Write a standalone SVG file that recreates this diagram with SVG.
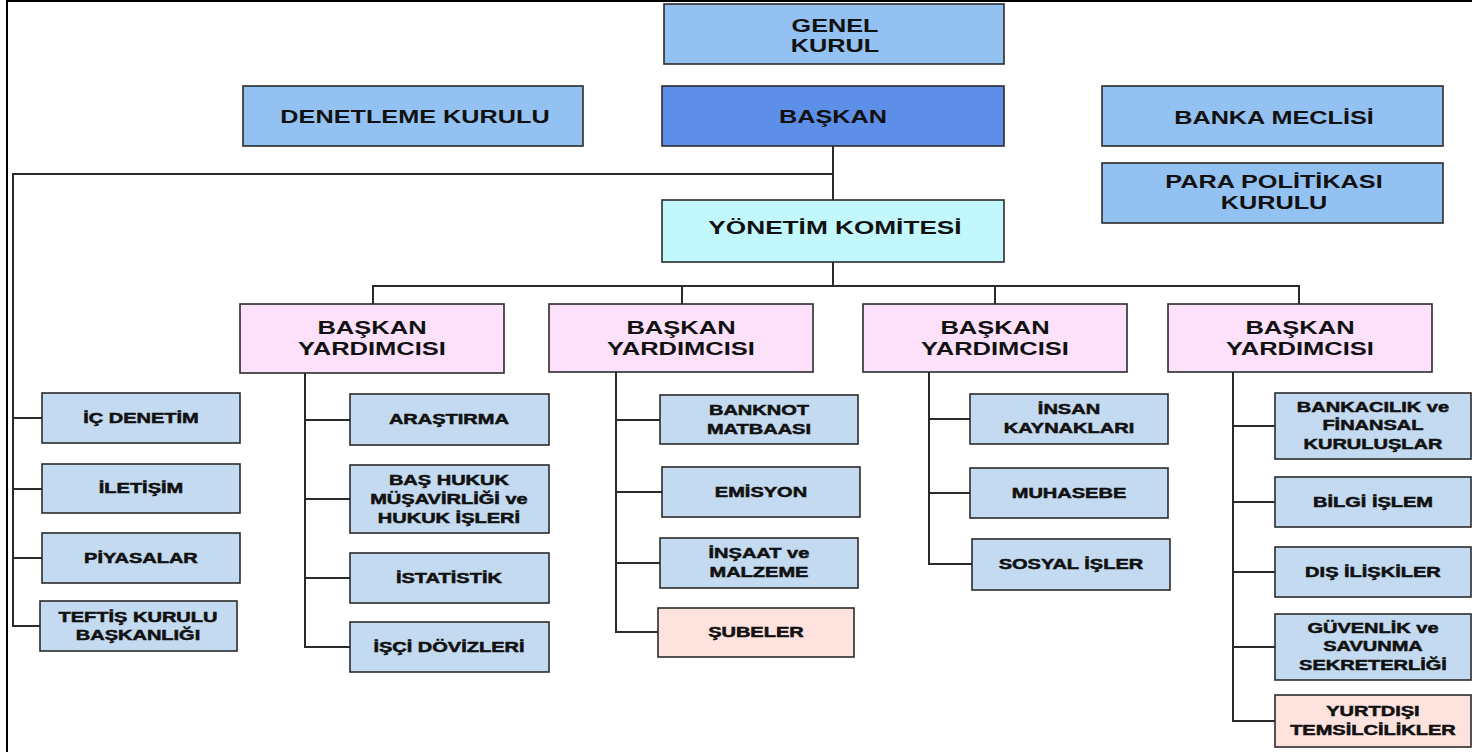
<svg xmlns="http://www.w3.org/2000/svg" width="1472" height="752" viewBox="0 0 1472 752">
<style>
  .box { stroke: #2b2b2b; stroke-width: 1.6; }
  .top { fill: #93c2f2; }
  .pres { fill: #5d8fe8; }
  .yk { fill: #c2f7fb; }
  .vp { fill: #fde1fb; }
  .unit { fill: #c3daf0; }
  .pink { fill: #fde2de; }
  text { font-family: "Liberation Sans", Arial, sans-serif; font-weight: bold; fill: #111; text-anchor: middle;
         transform-box: fill-box; transform-origin: center; transform: scaleX(1.38); }
  .t18 { font-size: 18.3px; }
  .t19 { font-size: 19px; }
  .tvp { font-size: 18.5px; }
  .tu { font-size: 14.5px; stroke: #111; stroke-width: 0.5px; }
  .conn { fill: none; stroke: #2b2b2b; stroke-width: 2; }
</style>
<rect width="1472" height="752" fill="#ffffff"/>
<path d="M7,752 V1 H1472" fill="none" stroke="#000" stroke-width="2"/>

<g id="connectors" class="conn">
  <path d="M833,146 V200"/>
  <path d="M833,174 H13 V626 H40"/>
  <path d="M13,418 H42 M13,489 H42 M13,558 H42"/>
  <path d="M833,262 V286"/>
  <path d="M373,304 V286 H1299 V304 M682,286 V304 M995,286 V304"/>
  <path d="M305,373 V647 H350 M305,420 H350 M305,499 H350 M305,578 H350"/>
  <path d="M616,372 V632 H658 M616,420 H660 M616,492 H662 M616,563 H660"/>
  <path d="M929,372 V564 H972 M929,419 H970 M929,493 H970"/>
  <path d="M1233,372 V721 H1275 M1233,426 H1275 M1233,502 H1275 M1233,572 H1275 M1233,647 H1275"/>
</g>

<g id="genel-kurul"><rect class="box top" x="664" y="4" width="340" height="60"/>
  <text class="t18" x="835" y="32">GENEL<tspan x="835" dy="20">KURUL</tspan></text></g>
<g id="denetleme-kurulu"><rect class="box top" x="243" y="86" width="340" height="60"/>
  <text class="t18" x="415" y="123">DENETLEME KURULU</text></g>
<g id="baskan"><rect class="box pres" x="662" y="86" width="342" height="60"/>
  <text class="t18" x="833" y="123">BAŞKAN</text></g>
<g id="banka-meclisi"><rect class="box top" x="1102" y="86" width="341" height="60"/>
  <text class="t18" x="1274" y="124">BANKA MECLİSİ</text></g>
<g id="para-politikasi"><rect class="box top" x="1102" y="163" width="341" height="60"/>
  <text class="t18" x="1274" y="188">PARA POLİTİKASI<tspan x="1274" dy="21">KURULU</tspan></text></g>
<g id="yonetim-komitesi"><rect class="box yk" x="662" y="200" width="342" height="62"/>
  <text class="t19" x="835" y="234">YÖNETİM KOMİTESİ</text></g>

<g id="vp1"><rect class="box vp" x="240" y="304" width="264" height="69"/>
  <text class="tvp" x="372" y="334">BAŞKAN<tspan x="372" dy="21">YARDIMCISI</tspan></text></g>
<g id="vp2"><rect class="box vp" x="549" y="304" width="264" height="68"/>
  <text class="tvp" x="681" y="334">BAŞKAN<tspan x="681" dy="21">YARDIMCISI</tspan></text></g>
<g id="vp3"><rect class="box vp" x="863" y="304" width="264" height="68"/>
  <text class="tvp" x="995" y="334">BAŞKAN<tspan x="995" dy="21">YARDIMCISI</tspan></text></g>
<g id="vp4"><rect class="box vp" x="1168" y="304" width="264" height="68"/>
  <text class="tvp" x="1300" y="334">BAŞKAN<tspan x="1300" dy="21">YARDIMCISI</tspan></text></g>

<g id="ic-denetim"><rect class="box unit" x="42" y="393" width="198" height="50"/>
  <text class="tu" x="141" y="423">İÇ DENETİM</text></g>
<g id="iletisim"><rect class="box unit" x="42" y="464" width="198" height="49"/>
  <text class="tu" x="141" y="493.5">İLETİŞİM</text></g>
<g id="piyasalar"><rect class="box unit" x="42" y="533" width="198" height="50"/>
  <text class="tu" x="141" y="563">PİYASALAR</text></g>
<g id="teftis"><rect class="box unit" x="40" y="601" width="197" height="50"/>
  <text class="tu" x="138" y="622">TEFTİŞ KURULU<tspan x="138" dy="18.5">BAŞKANLIĞI</tspan></text></g>

<g id="arastirma"><rect class="box unit" x="350" y="394" width="199" height="51"/>
  <text class="tu" x="449" y="424.5">ARAŞTIRMA</text></g>
<g id="bas-hukuk"><rect class="box unit" x="350" y="465" width="199" height="68"/>
  <text class="tu" x="449" y="485.5">BAŞ HUKUK<tspan x="449" dy="19">MÜŞAVİRLİĞİ ve</tspan><tspan x="449" dy="19">HUKUK İŞLERİ</tspan></text></g>
<g id="istatistik"><rect class="box unit" x="350" y="553" width="199" height="50"/>
  <text class="tu" x="449" y="583">İSTATİSTİK</text></g>
<g id="isci-dovizleri"><rect class="box unit" x="350" y="622" width="199" height="50"/>
  <text class="tu" x="449" y="652">İŞÇİ DÖVİZLERİ</text></g>

<g id="banknot"><rect class="box unit" x="660" y="395" width="198" height="49"/>
  <text class="tu" x="759" y="415">BANKNOT<tspan x="759" dy="19">MATBAASI</tspan></text></g>
<g id="emisyon"><rect class="box unit" x="662" y="467" width="198" height="50"/>
  <text class="tu" x="761" y="497">EMİSYON</text></g>
<g id="insaat"><rect class="box unit" x="660" y="538" width="198" height="50"/>
  <text class="tu" x="759" y="558.5">İNŞAAT ve<tspan x="759" dy="19">MALZEME</tspan></text></g>
<g id="subeler"><rect class="box pink" x="658" y="608" width="196" height="49"/>
  <text class="tu" x="756" y="637.5">ŞUBELER</text></g>

<g id="insan-kaynaklari"><rect class="box unit" x="970" y="394" width="198" height="50"/>
  <text class="tu" x="1069" y="414.5">İNSAN<tspan x="1069" dy="19">KAYNAKLARI</tspan></text></g>
<g id="muhasebe"><rect class="box unit" x="970" y="468" width="198" height="50"/>
  <text class="tu" x="1069" y="498">MUHASEBE</text></g>
<g id="sosyal-isler"><rect class="box unit" x="972" y="539" width="198" height="51"/>
  <text class="tu" x="1071" y="569.5">SOSYAL İŞLER</text></g>

<g id="bankacilik"><rect class="box unit" x="1275" y="393" width="196" height="66"/>
  <text class="tu" x="1373" y="412">BANKACILIK ve<tspan x="1373" dy="18.5">FİNANSAL</tspan><tspan x="1373" dy="18.5">KURULUŞLAR</tspan></text></g>
<g id="bilgi-islem"><rect class="box unit" x="1275" y="477" width="196" height="50"/>
  <text class="tu" x="1373" y="507">BİLGİ İŞLEM</text></g>
<g id="dis-iliskiler"><rect class="box unit" x="1275" y="547" width="196" height="50"/>
  <text class="tu" x="1373" y="577">DIŞ İLİŞKİLER</text></g>
<g id="guvenlik"><rect class="box unit" x="1275" y="614" width="196" height="66"/>
  <text class="tu" x="1373" y="633">GÜVENLİK ve<tspan x="1373" dy="18.5">SAVUNMA</tspan><tspan x="1373" dy="18.5">SEKRETERLİĞİ</tspan></text></g>
<g id="yurtdisi"><rect class="box pink" x="1275" y="695" width="196" height="52"/>
  <text class="tu" x="1373" y="716.5">YURTDIŞI<tspan x="1373" dy="18.5">TEMSİLCİLİKLER</tspan></text></g>
</svg>
